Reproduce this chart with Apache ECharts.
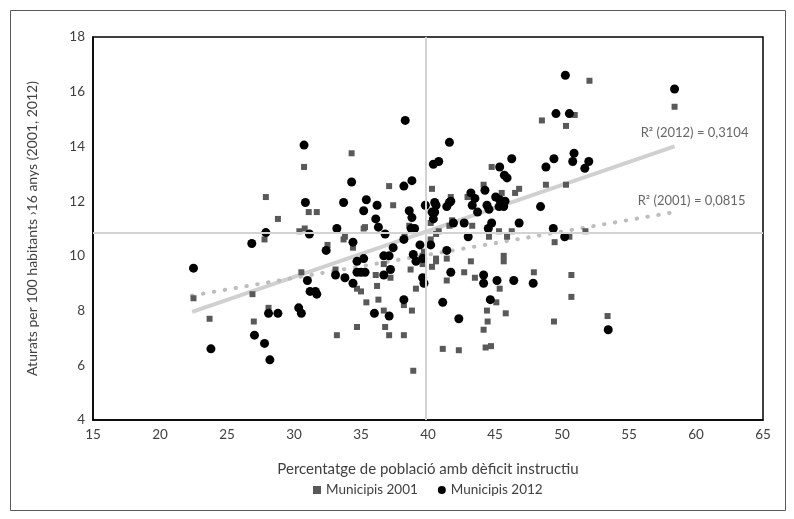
<!DOCTYPE html>
<html>
<head>
<meta charset="utf-8">
<script src="https://cdn.jsdelivr.net/npm/echarts@6/dist/echarts.min.js"></script>
<style>
html,body{margin:0;padding:0;background:#fff;}
#chart{width:794px;height:519px;}
</style>
</head>
<body>
<div id="chart"></div>
<script>
// Municipis 2001: [dèficit instructiu %, aturats per 100 hab.]
const municipis2001 = [
  [22.5,8.45],[23.7,7.7],[26.9,8.6],[27.0,7.6],[27.9,12.15],[28.8,11.35],[27.8,10.6],[28.1,8.1],
  [30.75,13.25],[31.1,11.6],[31.7,11.6],[30.8,11.0],[30.4,10.9],[30.55,9.4],[32.5,10.4],[33.8,10.7],
  [33.7,10.6],[33.1,9.5],[34.3,13.75],[34.4,10.3],[35.3,11.05],[35.2,11.0],[34.7,8.8],[35.0,8.7],
  [35.4,8.3],[34.7,7.4],[33.2,7.1],[37.1,12.55],[37.4,11.85],[36.7,9.7],[36.1,9.3],[36.2,8.9],
  [37.2,9.2],[36.3,8.4],[36.7,8.0],[36.8,7.4],[37.1,7.1],[38.6,11.1],[38.25,10.7],[38.7,9.5],
  [39.6,9.7],[39.7,10.15],[38.2,8.2],[38.2,7.1],[38.8,8.0],[39.1,8.8],[38.9,5.8],[44.75,13.25],
  [40.3,12.45],[41.7,12.15],[42.95,12.15],[44.15,12.6],[45.5,12.3],[46.8,12.45],[46.5,12.3],[48.8,12.6],
  [50.3,12.6],[40.2,11.2],[41.8,11.3],[41.6,11.1],[43.3,11.1],[40.8,10.9],[40.6,10.8],[40.2,10.6],
  [45.3,10.9],[46.25,10.9],[44.55,10.7],[45.9,10.7],[51.75,10.9],[50.55,10.7],[49.45,10.5],[39.6,10.0],
  [41.4,9.9],[40.6,9.9],[40.6,9.8],[40.3,9.6],[43.2,9.8],[45.65,10.0],[45.65,9.8],[42.7,9.4],
  [43.5,9.2],[41.4,9.1],[47.9,9.4],[50.7,9.3],[45.35,8.8],[45.1,8.3],[44.4,8.0],[44.45,7.6],
  [45.8,7.9],[44.15,7.3],[41.1,6.6],[42.3,6.55],[44.3,6.65],[44.7,6.7],[49.4,7.6],[50.7,8.5],
  [52.05,16.4],[58.4,15.45],[53.4,7.8],[50.95,15.15],[48.5,14.95],[50.3,14.75]
];
// Municipis 2012
const municipis2012 = [
  [22.5,9.55],[23.8,6.6],[27.05,7.1],[26.85,10.45],[27.9,10.85],[27.8,6.8],[28.2,6.2],[28.1,7.9],
  [28.8,7.9],[30.75,14.05],[30.85,11.95],[31.15,10.8],[30.35,8.1],[30.55,7.9],[31.0,9.1],[31.2,8.7],
  [31.6,8.7],[31.7,8.6],[32.4,10.2],[33.2,11.0],[33.7,11.95],[34.3,12.7],[34.4,10.5],[33.1,9.3],
  [33.8,9.2],[34.4,9.0],[34.7,9.8],[35.2,9.9],[34.7,9.4],[35.0,9.4],[35.3,9.4],[35.4,12.05],
  [35.2,11.65],[36.2,11.85],[36.1,11.35],[36.3,11.05],[36.8,10.8],[36.7,10.0],[37.1,10.0],[37.4,10.3],
  [37.2,9.5],[36.7,9.3],[36.0,7.9],[37.1,7.8],[38.2,8.4],[38.2,12.55],[38.8,12.75],[38.6,11.65],
  [38.8,11.4],[38.75,11.0],[39.0,11.0],[39.8,11.85],[38.2,10.6],[38.9,10.05],[39.1,9.8],[39.4,10.4],
  [39.6,9.9],[39.6,9.2],[39.7,9.0],[38.3,14.95],[41.6,14.15],[40.4,13.35],[40.8,13.45],[40.5,11.95],
  [40.6,11.85],[41.4,11.8],[41.6,11.95],[41.7,12.0],[40.3,11.6],[40.5,11.6],[40.4,11.35],[43.2,12.3],
  [43.5,12.1],[43.3,11.85],[44.25,12.4],[44.4,11.85],[44.55,11.7],[43.7,11.6],[45.05,12.15],[45.35,12.05],
  [45.75,12.0],[45.3,11.8],[45.65,11.8],[45.35,13.25],[46.25,13.55],[45.7,12.95],[45.9,12.85],[48.4,11.8],
  [41.9,11.2],[42.7,11.2],[44.75,11.2],[44.5,11.0],[46.8,11.2],[49.35,11.0],[50.2,10.7],[43.0,10.7],
  [40.2,10.4],[41.4,10.2],[41.7,9.4],[44.15,9.3],[44.15,9.0],[45.15,9.1],[46.4,9.1],[47.85,9.0],
  [41.1,8.3],[42.3,7.7],[44.65,8.4],[48.8,13.25],[49.4,13.55],[50.9,13.75],[50.8,13.45],[52.0,13.45],
  [51.7,13.2],[50.25,16.6],[49.55,15.2],[50.55,15.2],[58.4,16.1],[53.45,7.3]
];
// Trend lines (endpoints)
const trend2012 = [[22.4,7.95],[58.4,14.0]];
const trend2001 = [[22.4,8.55],[58.4,11.6]];
const refX = 39.8;   // vertical reference line
const refY = 10.85;  // horizontal reference line
const r2Labels = ['R² (2012) = 0,3104','R² (2001) = 0,0815'];
const xTicks = {min:15,max:65,interval:5};
const yTicks = {min:4,max:18,interval:2};

const FONT = 'Lato, "Open Sans", sans-serif';
const chart = echarts.init(document.getElementById('chart'));
chart.setOption({
  animation:false,
  backgroundColor:'#fff',
  graphic:[{type:'rect',left:8,top:8,shape:{width:775,height:500},style:{fill:'none',stroke:'#595959',lineWidth:1}}],
  grid:{left:93,right:31,top:37,bottom:99,show:true,borderColor:'#000',borderWidth:1.5},
  xAxis:{type:'value',min:xTicks.min,max:xTicks.max,interval:xTicks.interval,
    name:'Percentatge de població amb dèficit instructiu',nameLocation:'middle',nameGap:42,
    nameTextStyle:{fontFamily:FONT,fontSize:15,color:'#404040'},
    axisLine:{show:true,lineStyle:{color:'#000',width:1.5}},axisTick:{show:false},
    splitLine:{show:false},axisLabel:{fontFamily:FONT,fontSize:13.5,color:'#404040',margin:8}},
  yAxis:{type:'value',min:yTicks.min,max:yTicks.max,interval:yTicks.interval,
    name:'Aturats per 100 habitants ›16 anys (2001, 2012)',nameLocation:'middle',nameGap:54,
    nameTextStyle:{fontFamily:FONT,fontSize:14,color:'#404040'},
    axisLine:{show:true,lineStyle:{color:'#000',width:1.5}},axisTick:{show:false},
    splitLine:{show:false},axisLabel:{fontFamily:FONT,fontSize:13.5,color:'#404040',margin:8}},
  legend:{bottom:17,left:308,itemGap:20,itemWidth:8,itemHeight:8,
    textStyle:{fontFamily:FONT,fontSize:13.5,color:'#404040'},
    data:[{name:'Municipis 2001',icon:'rect',itemStyle:{color:'#595959'}},{name:'Municipis 2012',icon:'circle',itemStyle:{color:'#000'}}]},
  series:[
    {type:'line',data:trend2012,showSymbol:false,symbol:'none',silent:true,z:1,
      lineStyle:{color:'#d0d0d0',width:4},
      markLine:{silent:true,symbol:'none',label:{show:false},
        lineStyle:{color:'#d3d3d3',width:2,type:'solid'},
        data:[{xAxis:refX},{yAxis:refY}]}},
    {type:'line',data:trend2001,showSymbol:false,symbol:'none',silent:true,z:1,
      lineStyle:{color:'#bdbdbd',width:4,type:[0.5,10.5],cap:'round'}},
    {name:'Municipis 2001',type:'scatter',data:municipis2001,symbol:'rect',symbolSize:6,z:3,
      itemStyle:{color:'#595959',opacity:1}},
    {name:'Municipis 2012',type:'scatter',data:municipis2012,symbol:'circle',symbolSize:9,z:4,
      itemStyle:{color:'#000',opacity:1}},
    {type:'scatter',silent:true,symbolSize:0,z:5,
      data:[{value:[58.4,14.0],label:{show:true,formatter:r2Labels[0],position:'top',offset:[20,-2]}},
            {value:[58.4,11.6],label:{show:true,formatter:r2Labels[1],position:'top',offset:[17,0]}}],
      label:{fontFamily:FONT,fontSize:13,color:'#404040'}}
  ]
});
</script>
</body>
</html>
